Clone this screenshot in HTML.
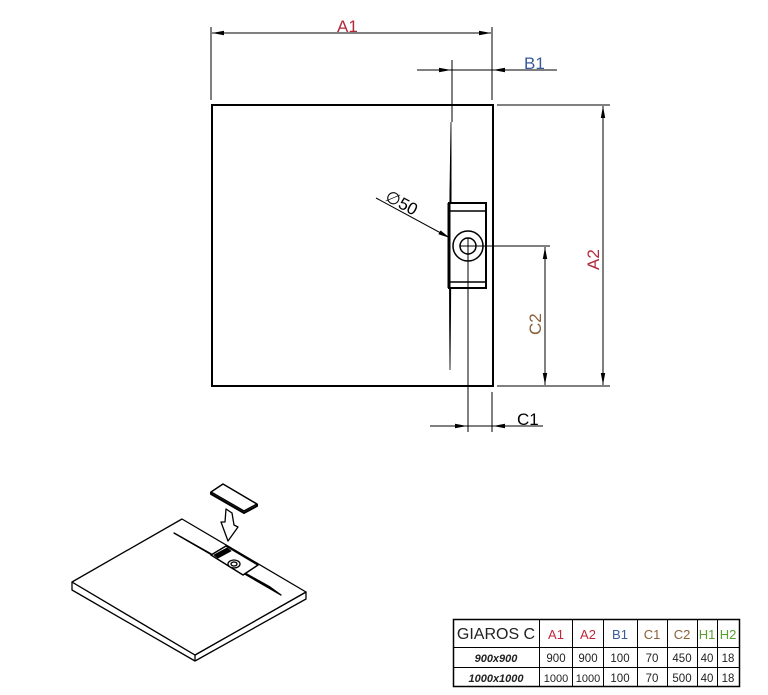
<!DOCTYPE html>
<html><head><meta charset="utf-8"><style>
html,body{margin:0;padding:0;background:#fff;}
svg{display:block;}
text{font-family:"Liberation Sans",sans-serif;}
</style></head><body>
<svg width="768" height="695" viewBox="0 0 768 695" xmlns="http://www.w3.org/2000/svg">
<defs>
<marker id="ar" viewBox="0 0 12 6" refX="12" refY="3" markerWidth="12" markerHeight="6" orient="auto" markerUnits="userSpaceOnUse"><path d="M0,0.8 L12,3 L0,5.2 Z" fill="#000"/></marker>
<marker id="as" viewBox="0 0 12 6" refX="0" refY="3" markerWidth="12" markerHeight="6" orient="auto" markerUnits="userSpaceOnUse"><path d="M12,0.8 L0,3 L12,5.2 Z" fill="#000"/></marker>
</defs>
<g stroke="#000" fill="none" stroke-width="1">
<!-- A1 -->
<line x1="211" y1="27" x2="211" y2="100"/>
<line x1="492" y1="27" x2="492" y2="100"/>
<line x1="212" y1="33" x2="491" y2="33" marker-start="url(#as)" marker-end="url(#ar)"/>
<!-- B1 -->
<line x1="417" y1="70" x2="557" y2="70"/>
<line x1="430" y1="70" x2="451" y2="70" marker-end="url(#ar)"/>
<line x1="513" y1="70" x2="493" y2="70" marker-end="url(#ar)"/>
<line x1="452" y1="60" x2="452" y2="122"/>
<!-- A2 -->
<line x1="497" y1="105" x2="610" y2="105"/>
<line x1="497" y1="386" x2="610" y2="386"/>
<line x1="603" y1="106" x2="603" y2="385" marker-start="url(#as)" marker-end="url(#ar)"/>
<!-- C2 -->
<line x1="468" y1="246" x2="550" y2="246"/>
<line x1="545" y1="247" x2="545" y2="385" marker-start="url(#as)" marker-end="url(#ar)"/>
<!-- C1 -->
<line x1="468" y1="246" x2="468" y2="432"/>
<line x1="492" y1="392" x2="492" y2="432"/>
<line x1="430" y1="426" x2="543" y2="426"/>
<line x1="450" y1="426" x2="467" y2="426" marker-end="url(#ar)"/>
<line x1="512" y1="426" x2="493" y2="426" marker-end="url(#ar)"/>
<!-- Ø50 leader -->
<line x1="376" y1="198" x2="450" y2="238" marker-end="url(#ar)"/>
</g>
<!-- square -->
<rect x="212" y="105" width="281" height="281" fill="none" stroke="#000" stroke-width="2"/>
<!-- channel sliver -->
<path d="M451,122 Q448.5,246 450,370 Q451.5,246 451,122 Z" fill="#000" stroke="#000" stroke-width="0.8"/>
<!-- drain -->
<rect x="449" y="203" width="37" height="85" fill="#fff" stroke="#000" stroke-width="2"/>
<line x1="449" y1="211" x2="486" y2="211" stroke="#000" stroke-width="1.5"/>
<line x1="449" y1="282" x2="486" y2="282" stroke="#000" stroke-width="1.5"/>
<line x1="449" y1="203" x2="449" y2="288" stroke="#000" stroke-width="3"/>
<circle cx="468" cy="246" r="15" fill="#fff" stroke="#000" stroke-width="1.5"/>
<circle cx="468" cy="246" r="8" fill="none" stroke="#000" stroke-width="1.5"/>
<line x1="460" y1="246" x2="550" y2="246" stroke="#000" stroke-width="1"/>
<line x1="468" y1="238" x2="468" y2="290" stroke="#000" stroke-width="1"/>
<!-- labels -->
<text x="337" y="32" font-size="17" fill="#b0293a">A1</text>
<text x="524" y="69" font-size="17" fill="#3a5a9a">B1</text>
<text x="599" y="270" font-size="17" fill="#b0293a" transform="rotate(-90 599 270)">A2</text>
<text x="541" y="335" font-size="17" fill="#8a6038" transform="rotate(-90 541 335)">C2</text>
<text x="517" y="425" font-size="17" fill="#000">C1</text>
<text x="384" y="200" font-size="17" fill="#000" transform="rotate(28 384 200)">∅50</text>
<!-- isometric tray -->
<g stroke="#000" stroke-width="1.3" fill="#fff" stroke-linejoin="round">
<path d="M72,582 L72,590 L195,661 L306,599 L306,592 L195,655 Z"/>
<path d="M72,582 L182,519 L306,592 L195,655 Z"/>
<line x1="195" y1="655" x2="195" y2="661"/>
<path d="M174,533 L281,595 L270,587 Z" fill="#000"/>
<line x1="174" y1="533" x2="281" y2="595"/>
<path d="M211,555 L226,546 L258,565 L243,575 Z" stroke-width="1.5"/>
<path d="M214,555 L227,548 L231,551 L218,558 Z" fill="#000" stroke-width="0.8"/>
<ellipse cx="234" cy="564" rx="6" ry="4"/>
<ellipse cx="234" cy="564" rx="3" ry="2"/>
<path d="M211,492 L223,484 L257,504 L244,511 Z" stroke-width="1.5"/>
<path d="M211,492 L211,494 L244,513 L257,506 L257,504" fill="none" stroke-width="2"/>
<path d="M226,509 L232,513 L234,525 L238,527 L228,541 L221,522 L225,522 Z"/>
</g>
<!-- table -->
<g stroke="#000" fill="none">
<rect x="453.5" y="619.5" width="286" height="67" stroke-width="1.5"/>
<line x1="453" y1="647.5" x2="740" y2="647.5"/>
<line x1="453" y1="667.5" x2="740" y2="667.5"/>
<line x1="539.5" y1="619" x2="539.5" y2="687"/>
<line x1="572.5" y1="619" x2="572.5" y2="687"/>
<line x1="603.5" y1="619" x2="603.5" y2="687"/>
<line x1="637.5" y1="619" x2="637.5" y2="687"/>
<line x1="667.5" y1="619" x2="667.5" y2="687"/>
<line x1="697.5" y1="619" x2="697.5" y2="687"/>
<line x1="717.5" y1="619" x2="717.5" y2="687"/>
</g>
<g font-size="11.5" text-anchor="middle" fill="#222">
<text x="496" y="639" font-size="16">GIAROS C</text>
<text x="556" y="639" font-size="13" fill="#c0283a">A1</text>
<text x="588" y="639" font-size="13" fill="#c0283a">A2</text>
<text x="620" y="639" font-size="13" fill="#3a5a9a">B1</text>
<text x="652" y="639" font-size="13" fill="#8a6038">C1</text>
<text x="682" y="639" font-size="13" fill="#8a6038">C2</text>
<text x="707" y="639" font-size="13" fill="#5aa030">H1</text>
<text x="728" y="639" font-size="13" fill="#5aa030">H2</text>
<text x="496" y="662" font-size="11" font-weight="bold" font-style="italic">900x900</text>
<text x="556" y="662">900</text><text x="588" y="662">900</text><text x="620" y="662">100</text><text x="652" y="662">70</text><text x="682" y="662">450</text><text x="707" y="662">40</text><text x="728" y="662">18</text>
<text x="496" y="682" font-size="11" font-weight="bold" font-style="italic">1000x1000</text>
<text x="556" y="682" font-size="11">1000</text><text x="588" y="682" font-size="11">1000</text><text x="620" y="682">100</text><text x="652" y="682">70</text><text x="682" y="682">500</text><text x="707" y="682">40</text><text x="728" y="682">18</text>
</g>
</svg>
</body></html>
